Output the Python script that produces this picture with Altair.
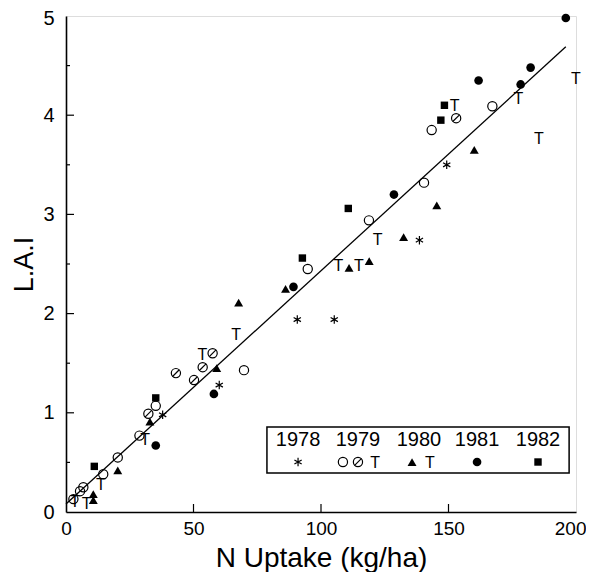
import altair as alt
import pandas as pd

# ---- data ----
x_ticks = [0, 50, 100, 150, 200]
y_ticks = [0, 1, 2, 3, 4, 5]
x_tick_marks = [50, 100, 150]
y_tick_marks = [1, 2, 3, 4]
y_minor_marks = [0.5, 1.5, 2.5, 3.5, 4.5]

# 1978 asterisks
ast_x = [149.3, 138.6, 90.7, 105.2, 60.1, 37.9]
ast_y = [3.50, 2.74, 1.94, 1.94, 1.28, 0.98]
# 1979 open circles
oc_x = [167.2, 143.4, 140.4, 118.8, 94.8, 69.8, 35.2, 28.8, 20.3, 14.6, 6.8, 5.5, 2.9]
oc_y = [4.09, 3.85, 3.32, 2.94, 2.45, 1.43, 1.07, 0.77, 0.55, 0.38, 0.25, 0.21, 0.13]
# 1979 slashed circles
cs_x = [153.0, 57.5, 53.6, 43.1, 50.2, 32.3]
cs_y = [3.97, 1.60, 1.46, 1.40, 1.33, 0.99]
# 1979 / 1980 "T"
t_x = [200.0, 177.4, 152.4, 185.4, 122.2, 106.8, 114.9, 66.7, 53.5, 31.0, 13.7, 8.1, 3.5]
t_y = [4.37, 4.17, 4.10, 3.77, 2.75, 2.49, 2.49, 1.79, 1.59, 0.74, 0.28, 0.09, 0.11]
# 1980 triangles
tri_x = [160.1, 145.4, 132.4, 118.9, 111.0, 86.1, 67.7, 59.1, 32.9, 20.3, 10.7, 10.7]
tri_y = [3.65, 3.09, 2.77, 2.53, 2.46, 2.25, 2.11, 1.45, 0.91, 0.42, 0.18, 0.12]
# 1981 filled circles
fc_x = [196.0, 182.2, 178.3, 161.8, 128.6, 89.2, 58.0, 35.2]
fc_y = [4.98, 4.48, 4.31, 4.35, 3.20, 2.27, 1.19, 0.67]
# 1982 squares
sq_x = [148.4, 147.0, 110.7, 92.7, 35.2, 11.1]
sq_y = [4.10, 3.95, 3.06, 2.56, 1.15, 0.46]

# fitted line
fit_x = [0, 196]
fit_y = [0.08, 4.69]

years = ["1978", "1979", "1980", "1981", "1982"]

# legend layout (annotation, data units)
leg_box = {"x": 78.8, "x2": 197.3, "y": 0.857, "y2": 0.393}
leg_year_x = [91.0, 114.5, 138.4, 161.2, 185.1]
leg_year_y = 0.726
leg_sym = ["ast", "oc", "cs", "T", "tri", "T", "fc", "sq"]
leg_sym_x = [91.0, 108.6, 114.5, 121.2, 135.7, 142.7, 161.2, 185.1]
leg_sym_y = 0.504

FONT = "Liberation Sans"
W, H = 510, 496

def df_of(xs, ys, sym):
    return pd.DataFrame({"x": xs, "y": ys, "sym": sym})

pts = pd.concat([
    df_of(ast_x, ast_y, "ast"),
    df_of(oc_x, oc_y, "oc"),
    df_of(cs_x, cs_y, "cs"),
    df_of(t_x, t_y, "T"),
    df_of(tri_x, tri_y, "tri"),
    df_of(fc_x, fc_y, "fc"),
    df_of(sq_x, sq_y, "sq"),
], ignore_index=True)

leg_df = pd.DataFrame({"x": leg_sym_x, "y": [leg_sym_y] * len(leg_sym_x), "sym": leg_sym})

xsc = alt.Scale(domain=[0, 200], nice=False)
ysc = alt.Scale(domain=[0, 5], nice=False)

def X(field="x"):
    return alt.X(f"{field}:Q", scale=xsc, axis=None)

def Y(field="y"):
    return alt.Y(f"{field}:Q", scale=ysc, axis=None)

ASTER = "M0,-1L0,1M-0.87,-0.5L0.87,0.5M-0.87,0.5L0.87,-0.5"
SLASH = "M-0.8,0.8L0.8,-0.8"

def symbol_layers(df):
    out = []
    def sub(s):
        return df[df.sym == s]
    d = sub("ast")
    if len(d):
        out.append(alt.Chart(d).mark_point(shape=ASTER, filled=False, stroke="black",
                                           strokeWidth=1.2, size=70, opacity=1)
                   .encode(x=X(), y=Y()))
    for s in ["oc", "cs"]:
        d = sub(s)
        if len(d):
            out.append(alt.Chart(d).mark_point(shape="circle", filled=False, stroke="black",
                                               strokeWidth=1.2, size=85, opacity=1)
                       .encode(x=X(), y=Y()))
    d = sub("cs")
    if len(d):
        out.append(alt.Chart(d).mark_point(shape=SLASH, filled=False, stroke="black",
                                           strokeWidth=1.2, size=70, opacity=1)
                   .encode(x=X(), y=Y()))
    d = sub("T")
    if len(d):
        out.append(alt.Chart(d).mark_text(text="T", font=FONT, fontSize=16, color="black",
                                          baseline="middle", align="center", dy=1)
                   .encode(x=X(), y=Y()))
    d = sub("tri")
    if len(d):
        out.append(alt.Chart(d).mark_point(shape="triangle-up", filled=True, color="black",
                                           size=80, opacity=1)
                   .encode(x=X(), y=Y()))
    d = sub("fc")
    if len(d):
        out.append(alt.Chart(d).mark_point(shape="circle", filled=True, color="black",
                                           size=75, opacity=1)
                   .encode(x=X(), y=Y()))
    d = sub("sq")
    if len(d):
        out.append(alt.Chart(d).mark_point(shape="square", filled=True, color="black",
                                           size=55, opacity=1)
                   .encode(x=X(), y=Y()))
    return out

# base axes
axes = alt.Chart(pd.DataFrame({"x": [0], "y": [0]})).mark_point(opacity=0).encode(
    x=alt.X("x:Q", scale=xsc, title="N Uptake (kg/ha)",
            axis=alt.Axis(values=x_ticks, tickSize=0, grid=False, domainColor="black",
                          domainWidth=1.6, labelFont=FONT, labelFontSize=19,
                          labelColor="black", labelPadding=7, labelFlush=False,
                          labelAlign=alt.ExprRef(expr="datum.value == 200 ? 'right' : 'center'"),
                          labelOffset=alt.ExprRef(expr="datum.value == 200 ? 10 : 0"),
                          titleFont=FONT, titleFontSize=28, titleFontWeight="normal",
                          titleColor="black", titleBaseline="alphabetic", titleY=54)),
    y=alt.Y("y:Q", scale=ysc, title="L.A.I",
            axis=alt.Axis(values=y_ticks, tickSize=0, grid=False, domainColor="black",
                          domainWidth=1.6, labelFont=FONT, labelFontSize=20,
                          labelColor="black", labelPadding=12, labelFlush=False,
                          labelOffset=alt.ExprRef(expr="datum.value == 5 ? 2 : 0"),
                          titleFont=FONT, titleFontSize=27, titleFontWeight="normal",
                          titleColor="black", titleAngle=-90, titleBaseline="alphabetic",
                          titleX=-34, titleY=H / 2, titleAlign="center")),
)

ytk = alt.Chart(pd.DataFrame({"v": y_tick_marks})).mark_rule(color="black", strokeWidth=1.2).encode(
    y=alt.Y("v:Q", scale=ysc, axis=None), x=alt.value(0), x2=alt.value(8))
ymn = alt.Chart(pd.DataFrame({"v": y_minor_marks})).mark_rule(color="black", strokeWidth=1.2).encode(
    y=alt.Y("v:Q", scale=ysc, axis=None), x=alt.value(0), x2=alt.value(4))
xtk = alt.Chart(pd.DataFrame({"v": x_tick_marks})).mark_rule(color="black", strokeWidth=1.2).encode(
    x=alt.X("v:Q", scale=xsc, axis=None), y=alt.value(H), y2=alt.value(H - 8))

fit = alt.Chart(pd.DataFrame({"x": fit_x, "y": fit_y})).mark_line(color="black", strokeWidth=1.3).encode(
    x=X(), y=Y())

box = alt.Chart(pd.DataFrame([leg_box])).mark_rect(fill="white", stroke="black", strokeWidth=1.5).encode(
    x=X("x"), x2="x2:Q", y=Y("y"), y2="y2:Q")
yrs = alt.Chart(pd.DataFrame({"x": leg_year_x, "y": [leg_year_y] * 5, "t": years})).mark_text(
    font=FONT, fontSize=20, color="black", baseline="middle", align="center").encode(
    x=X(), y=Y(), text="t:N")

layers = [axes, ytk, ymn, xtk, fit] + symbol_layers(pts) + [box, yrs] + symbol_layers(leg_df)

chart = alt.layer(*layers).resolve_axis(x="independent", y="independent").properties(
    width=W, height=H,
    autosize=alt.AutoSizeParams(type="none"),
    padding={"left": 58, "top": 8, "right": 10, "bottom": 60},
).configure_view(stroke=None).configure(background="white")

chart.save("out.html", embed_options={"renderer": "svg", "actions": False})
